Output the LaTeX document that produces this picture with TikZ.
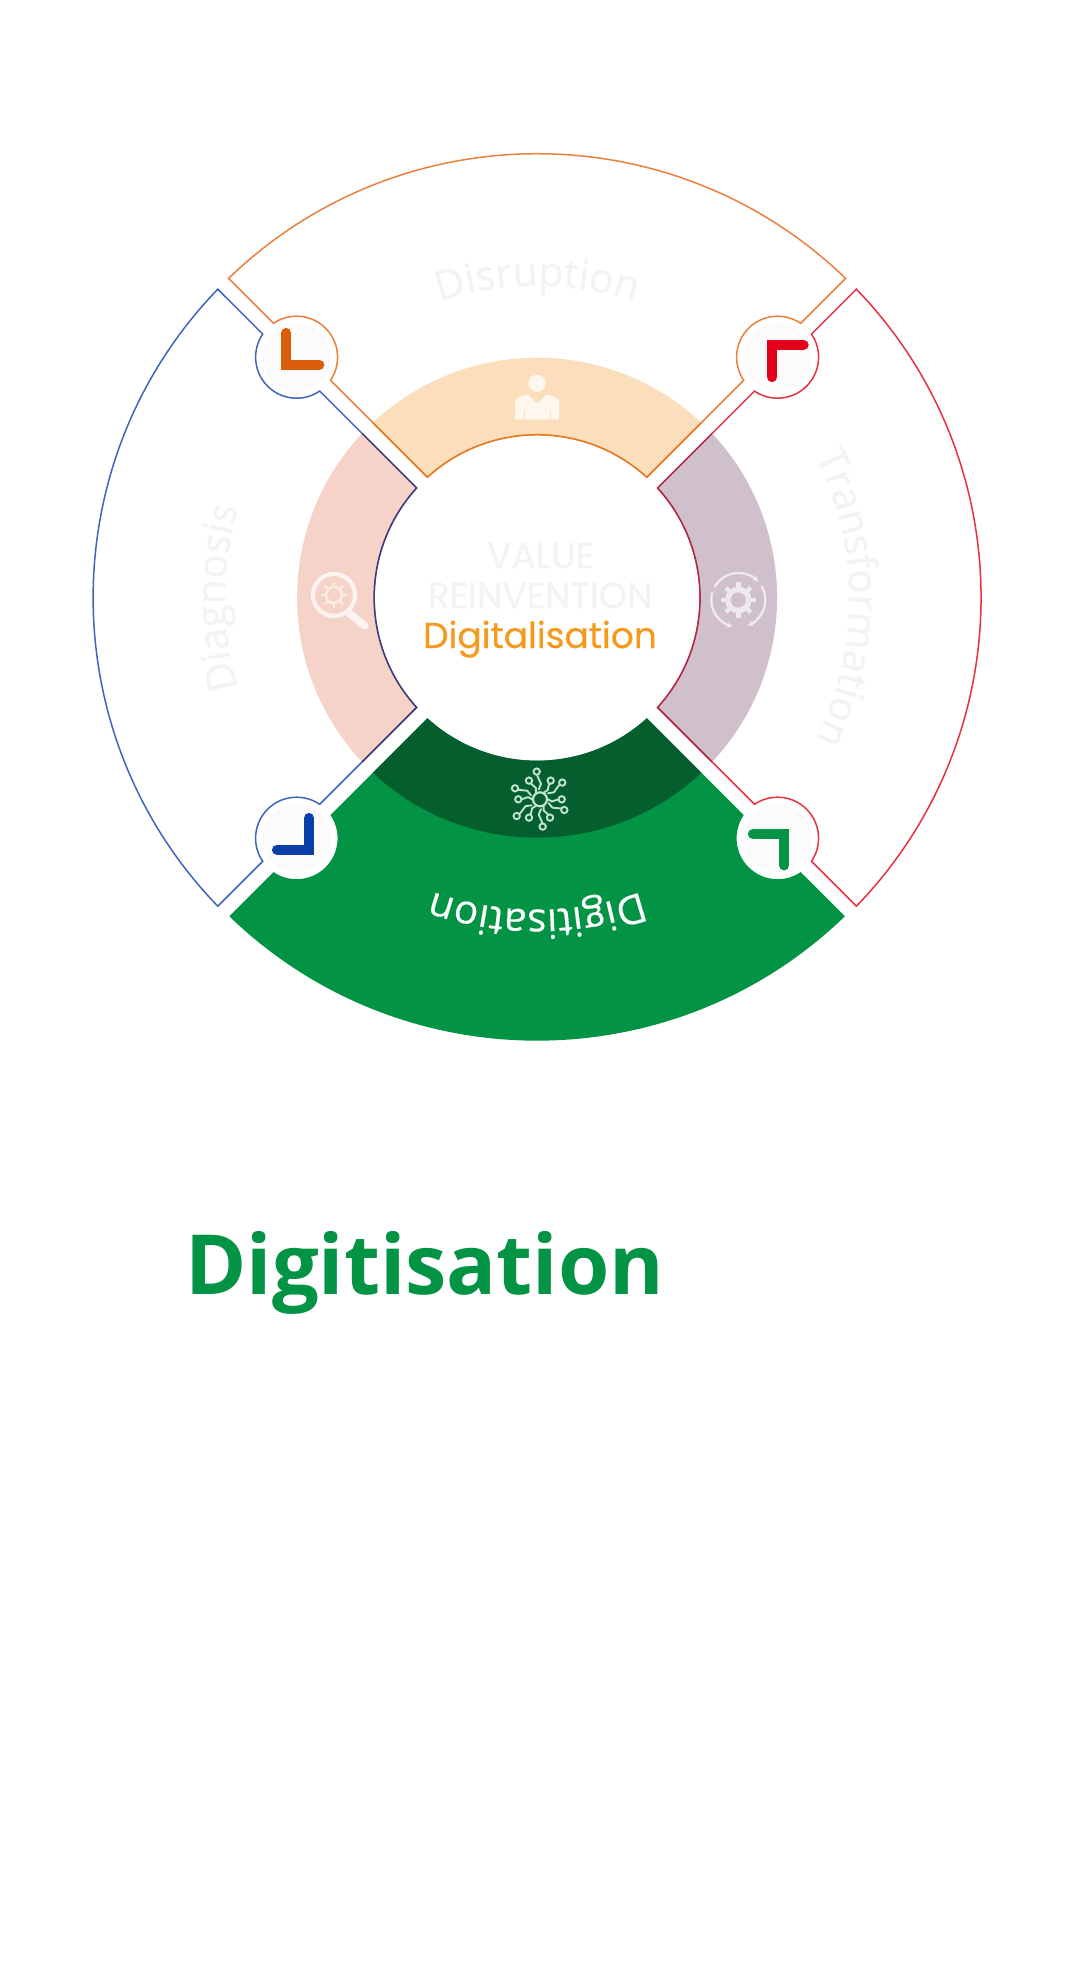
\documentclass[tikz,border=0pt]{standalone}
\usepackage{fontspec}
\usetikzlibrary{decorations.text,arrows.meta}
\newfontfamily\opnsemi[FakeBold=0.35]{Open Sans}
\newfontfamily\opnb{Open Sans}[BoldFont={* Bold}]
\newfontfamily\popsemi[FakeBold=0.35]{Poppins}
\definecolor{ghost}{HTML}{F3F3F3}
\definecolor{orgS}{HTML}{E9803E}
\definecolor{orgD}{HTML}{E8781A}
\definecolor{orgR}{HTML}{FBDFBC}
\definecolor{bluS}{HTML}{3E66BA}
\definecolor{bluD}{HTML}{3F3A78}
\definecolor{bluR}{HTML}{F6D3C8}
\definecolor{redS}{HTML}{E6323F}
\definecolor{redD}{HTML}{B02A45}
\definecolor{redR}{HTML}{CFC0CC}
\definecolor{grn}{HTML}{029344}
\definecolor{grnD}{HTML}{045E2E}
\definecolor{chevO}{HTML}{D95C08}
\definecolor{chevR}{HTML}{E2001A}
\definecolor{chevB}{HTML}{0B3FA8}
\definecolor{digiorg}{HTML}{F59A1E}
\newcommand\sectorpath[1]{(134.01:#1) arc[start angle=134.01,end angle=45.99,radius=#1] -- (263.58,274.38) arc[start angle=55.74,end angle=214.26,radius=41] -- (47.685:163) arc[start angle=47.685,end angle=132.315,radius=163] -- (-206.62,217.42) arc[start angle=-34.26,end angle=124.26,radius=41] -- cycle}
\newcommand\ringpath{(46.823:240) arc[start angle=46.823,end angle=133.177,radius=240] -- (132.315:163) arc[start angle=132.315,end angle=47.685,radius=163] -- cycle}
\newcommand\ringedge{(133.177:240) -- (132.315:163) arc[start angle=132.315,end angle=47.685,radius=163] -- (46.823:240)}
\newcommand\arctext[2]{\path[decorate,decoration={text along path,text align=center,text={|\opnsemi\fontsize{40.5}{40.5}\selectfont\color{#1}|#2}}] (130:312) arc[start angle=130,end angle=50,radius=312];}
\tikzset{
  outline/.style={line width=1.5pt,line join=miter},
  chevron/.style={line width=10.2pt,line cap=round,line join=miter},
  centertext/.style={inner sep=0pt,anchor=base},
  dotring/.style={fill=white!97!gray,draw=gray!15,line width=0.5pt,dash pattern=on 1pt off 1.5pt},
  iconline/.style={line cap=round,line join=round},
}
\begin{document}
\begin{tikzpicture}[x=1pt,y=1pt]
\useasboundingbox (-537.1,-1380.3) rectangle (547.9,597.7);
\fill[white] (-537.1,-1380.3) rectangle (547.9,597.7);
% top: Disruption
\begin{scope}
  \draw[outline,draw=orgS,fill=white] \sectorpath{444};
  \fill[orgR] \ringpath;
  \draw[outline,draw=orgD] \ringedge;
  \arctext{ghost}{Disruption}
\end{scope}
% left: Diagnosis
\begin{scope}[rotate=90]
  \draw[outline,draw=bluS,fill=white] \sectorpath{444};
  \fill[bluR] \ringpath;
  \draw[outline,draw=bluD] \ringedge;
  \arctext{ghost}{Diagnosis}
\end{scope}
% right: Transformation
\begin{scope}[rotate=-90]
  \draw[outline,draw=redS,fill=white] \sectorpath{444};
  \fill[redR] \ringpath;
  \draw[outline,draw=redD] \ringedge;
  \arctext{ghost}{Transformation}
\end{scope}
% bottom: Digitisation
\begin{scope}[rotate=180]
  \fill[grn] \sectorpath{443};
  \fill[grnD] \ringpath;
  \arctext{white}{Digitisation}
\end{scope}
% corner discs
\foreach \cx/\cy in {-240.5/240.5,240.5/240.5,-240.5/-240.5,240.5/-240.5}
  \draw[dotring] (\cx,\cy) circle[radius=33];
% chevrons
\draw[chevron,draw=chevO] (-250.8,264.7) -- (-250.8,233) -- (-217.8,233);
\draw[chevron,draw=chevR] (266.5,253) -- (234.9,253) -- (234.9,220.7);
\draw[chevron,draw=chevB] (-260.1,-252) -- (-228.1,-252) -- (-228.1,-220.3);
\draw[chevron,draw=grn] (215.9,-236.3) -- (247.2,-236.3) -- (247.2,-267.6);
% person icon
\begin{scope}[shift={(0,192)}]
  \fill[white!75!orgR] (0,22.4) circle[radius=8.6];
  \fill[white!75!orgR,rounded corners=2pt] (-22,-14) -- (-22,2) .. controls (-22,8) and (-14,10) .. (-10,12) -- (0,2) -- (10,12) .. controls (14,10) and (22,8) .. (22,2) -- (22,-14) -- cycle;
  \draw[orgR,line width=1pt] (-13,-14) -- (-13,-4) (13,-14) -- (13,-4);
\end{scope}
% magnifier icon
\begin{scope}[shift={(-203.1,2.7)}]
  \draw[white!75!bluR,line width=4.2pt] (0,0) circle[radius=21];
  \draw[white!75!bluR,line width=7.5pt,line cap=round] (15.3,-18.3) -- (31,-31);
  \draw[white!55!bluR,line width=2.6pt] (0,0) circle[radius=8];
  \foreach \a in {0,45,...,315}
    \draw[white!55!bluR,line width=2.6pt] (\a:8) -- (\a:13);
\end{scope}
% rotating gear icon
\begin{scope}[shift={(201.2,-2.3)}]
  \draw[white!65!redR,line width=5.5pt] (0,0) circle[radius=10.5];
  \foreach \a in {0,45,...,315}
    \draw[white!65!redR,line width=4.5pt] (\a:11) -- (\a:17.5);
  \draw[iconline,white!65!redR,line width=2.4pt,-{Stealth[length=6pt,width=6pt]}] (150:27) arc[start angle=150,end angle=42,radius=27];
  \draw[iconline,white!65!redR,line width=2.4pt,-{Stealth[length=6pt,width=6pt]}] (165:27) arc[start angle=165,end angle=258,radius=27];
  \draw[iconline,white!65!redR,line width=2.4pt,-{Stealth[length=6pt,width=6pt]}] (30:27) arc[start angle=30,end angle=-70,radius=27];
\end{scope}
% network icon
\begin{scope}[shift={(2.9,-201.6)}]
  \draw[white!75!grn,line width=2.2pt] (0,0) circle[radius=7];
  \foreach \x/\y in {-3.3/27.7,-11/18.7,10.7/18.7,22.3/16.7,-25/11,-21.7/0,21.7/0,24.3/-10.7,-23.3/-16.7,-11/-18.3,10/-18.3,2.7/-27.3}{
    \draw[iconline,white!75!grn,line width=1.9pt] (0.36*\x,0.36*\y) -- (0.55*\x+0.1*\y,0.55*\y-0.1*\x) -- (0.86*\x,0.86*\y);
    \draw[white!75!grn,line width=1.9pt] (\x,\y) circle[radius=3.2];
  }
\end{scope}
% centre texts
\node[centertext,text=ghost,font=\popsemi\fontsize{36}{36}\selectfont] (value) at (3.5,29.7) {VALUE};
\node[centertext,text=ghost,font=\popsemi\fontsize{36}{36}\selectfont] (reinv) at (3,-10.3) {REINVENTION};
\node[centertext,text=digiorg,font=\popsemi\fontsize{36}{36}\selectfont] (digital) at (2.9,-50.3) {Digitalisation};
% heading
\node[inner sep=0pt,anchor=base west,text=grn,font=\opnb\bfseries\fontsize{83}{83}\selectfont] (heading) at (-352,-696.3) {Digitisation};
\end{tikzpicture}
\end{document}
